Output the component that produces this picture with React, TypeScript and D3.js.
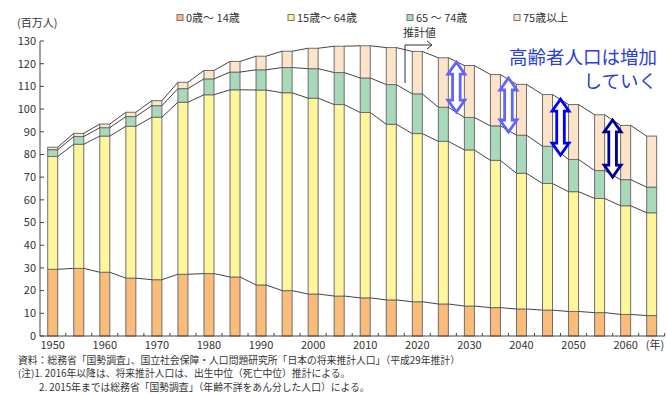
import React from "react";
import * as d3 from "d3";

const years = [1950, 1955, 1960, 1965, 1970, 1975, 1980, 1985, 1990, 1995, 2000, 2005, 2010, 2015, 2020, 2025, 2030, 2035, 2040, 2045, 2050, 2055, 2060, 2065];
const age0to14 = [29.4, 29.8, 28.1, 25.5, 24.8, 27.2, 27.5, 26.0, 22.5, 20.0, 18.5, 17.6, 16.8, 15.9, 15.1, 14.1, 13.2, 12.5, 11.9, 11.4, 10.8, 10.3, 9.5, 9.0];
const age15to64 = [49.7, 54.7, 60.0, 66.9, 71.6, 75.8, 78.8, 82.5, 85.9, 87.2, 86.3, 84.4, 81.7, 77.4, 74.1, 71.7, 68.8, 64.9, 59.8, 55.8, 52.8, 50.3, 47.9, 45.3];
const age65to74 = [3.0, 3.4, 3.7, 4.3, 5.1, 6.0, 7.0, 7.8, 8.9, 11.1, 13.0, 14.1, 15.2, 17.5, 17.5, 15.0, 14.3, 15.2, 16.8, 16.4, 14.2, 12.3, 11.5, 11.3];
const age75plus = [1.1, 1.4, 1.6, 1.9, 2.2, 2.8, 3.7, 4.7, 6.0, 7.2, 9.0, 11.6, 14.2, 16.3, 18.7, 21.8, 22.9, 22.6, 22.4, 22.8, 24.2, 24.6, 23.9, 22.5];

const seriesNames = ["0歳～ 14歳", "15歳～ 64歳", "65 ～ 74歳", "75歳以上"];
const seriesColors = ["#fbbc79", "#fff69c", "#a7d9ba", "#fde4c8"];
const legendX = [177, 288, 407, 514];

const yTicks = [0, 10, 20, 30, 40, 50, 60, 70, 80, 90, 100, 110, 120, 130];
const xLabelYears = [1950, 1960, 1970, 1980, 1990, 2000, 2010, 2020, 2030, 2040, 2050, 2060];

// annotation arrows: between year pairs, value ranges
const arrowLeftYears = [2025, 2035, 2045, 2055];
const arrowRightYears = [2030, 2040, 2050, 2060];
const arrowTop = [120.7, 113.7, 104.4, 95.2];
const arrowBottom = [98.7, 89.9, 79.7, 70.0];
const arrowColors = ["#6363ff", "#6363ff", "#0000ff", "#000090"];

const footnotes = [
  "資料：総務省「国勢調査」、国立社会保障・人口問題研究所「日本の将来推計人口」（平成29年推計）",
  "(注)1. 2016年以降は、将来推計人口は、出生中位（死亡中位）推計による。",
  "2. 2015年までは総務省「国勢調査」（年齢不詳をあん分した人口）による。",
];

const FONT = "'Noto Sans CJK JP', 'Noto Sans', sans-serif";

export default function App() {
  const W = 666, H = 394;
  const x = d3.scaleBand<string>().domain(years.map(String)).range([39.7, 664.7]).padding(0);
  const y = d3.scaleLinear().domain([0, 130]).range([336, 41]);
  const barW = 10;
  const cx = (yr: number) => (x(String(yr)) as number) + x.bandwidth() / 2;

  const table = years.map((yr, i) => ({
    year: yr,
    a: age0to14[i],
    b: age15to64[i],
    c: age65to74[i],
    d: age75plus[i],
  }));
  const keys = ["a", "b", "c", "d"];
  const stacked = d3.stack<any>().keys(keys)(table);

  const bars: JSX.Element[] = [];
  stacked.forEach((layer, li) => {
    layer.forEach((seg, i) => {
      const c = cx(years[i]);
      bars.push(
        <rect
          key={`b${li}-${i}`}
          x={c - barW / 2}
          y={y(seg[1])}
          width={barW}
          height={y(seg[0]) - y(seg[1])}
          fill={seriesColors[li]}
          stroke="#6e6e6e"
          strokeWidth={1}
        />
      );
    });
  });

  const lines: JSX.Element[] = [];
  stacked.forEach((layer, li) => {
    for (let i = 0; i < layer.length - 1; i++) {
      lines.push(
        <line
          key={`l${li}-${i}`}
          x1={cx(years[i]) + barW / 2}
          y1={y(layer[i][1])}
          x2={cx(years[i + 1]) - barW / 2}
          y2={y(layer[i + 1][1])}
          stroke="#444"
          strokeWidth={1}
        />
      );
    }
  });

  const arrowPath = (ax: number, yt: number, yb: number) => {
    const hw = 8.5, sw = 3.8, hl = 12;
    const p = d3.path();
    p.moveTo(ax, yt);
    p.lineTo(ax + hw, yt + hl);
    p.lineTo(ax + sw, yt + hl);
    p.lineTo(ax + sw, yb - hl);
    p.lineTo(ax + hw, yb - hl);
    p.lineTo(ax, yb);
    p.lineTo(ax - hw, yb - hl);
    p.lineTo(ax - sw, yb - hl);
    p.lineTo(ax - sw, yt + hl);
    p.lineTo(ax - hw, yt + hl);
    p.closePath();
    return p.toString();
  };

  const axisColor = "#444";
  const textColor = "#333";

  return (
    <svg
      width={W}
      height={H}
      viewBox={`0 0 ${W} ${H}`}
      style={{ position: "absolute", left: 0, top: 0, background: "#fff" }}
      fontFamily={FONT}
    >
      <rect x={0} y={0} width={W} height={H} fill="#fff" />

      {/* legend */}
      {seriesNames.map((n, i) => (
        <g key={`lg${i}`}>
          <rect x={legendX[i]} y={14.5} width={6} height={6} fill={seriesColors[i]} stroke="#777" strokeWidth={1} />
          <text x={legendX[i] + 9} y={21.5} fontSize={11} fill={textColor}>{n}</text>
        </g>
      ))}

      {/* y axis title */}
      <text x={17} y={27} fontSize={11} fill={textColor}>(百万人)</text>

      {/* y axis */}
      <line x1={40} y1={y(0)} x2={40} y2={y(130)} stroke={axisColor} strokeWidth={1} />
      {yTicks.map((t) => (
        <g key={`yt${t}`}>
          <line x1={40} x2={44} y1={y(t)} y2={y(t)} stroke={axisColor} strokeWidth={1} />
          <text x={36} y={y(t)} dy="0.35em" fontSize={11} textAnchor="end" fill={textColor}>{t}</text>
        </g>
      ))}

      {bars}
      {lines}

      {/* x axis */}
      <line x1={39.7} x2={664.7} y1={y(0)} y2={y(0)} stroke={axisColor} strokeWidth={1} />
      {years.map((yr) => (
        <line
          key={`xt${yr}`}
          x1={(x(String(yr)) as number) + x.bandwidth()}
          x2={(x(String(yr)) as number) + x.bandwidth()}
          y1={y(0)}
          y2={y(0) - 3}
          stroke={axisColor}
          strokeWidth={1}
        />
      ))}
      {xLabelYears.map((yr) => (
        <text key={`xl${yr}`} x={cx(yr)} y={349} fontSize={11} textAnchor="middle" fill={textColor}>{yr}</text>
      ))}
      <text x={655} y={349} fontSize={11} textAnchor="middle" fill={textColor}>(年)</text>

      {/* 推計値 marker */}
      <text x={403} y={37} fontSize={11} fill={textColor}>推計値</text>
      <path d="M405,83 L405,45 L432,45" fill="none" stroke="#333" strokeWidth={1} />
      <path d="M427,41 L432,45 L427,49" fill="none" stroke="#333" strokeWidth={1} />

      {/* arrows */}
      {arrowLeftYears.map((ly, i) => {
        const ax = (cx(ly) + cx(arrowRightYears[i])) / 2;
        return (
          <path
            key={`ar${i}`}
            d={arrowPath(ax, y(arrowTop[i]), y(arrowBottom[i]))}
            fill="#fff"
            stroke={arrowColors[i]}
            strokeWidth={2.8}
            strokeLinejoin="miter"
          />
        );
      })}

      {/* annotation text */}
      <text x={657} y={64} fontSize={18.5} textAnchor="end" fill="#2b3ed6">高齢者人口は増加</text>
      <text x={657} y={88} fontSize={18.5} textAnchor="end" fill="#2b3ed6">していく</text>

      {/* footnotes */}
      <text x={18} y={363.5} fontSize={9.8} fill={textColor}>{footnotes[0]}</text>
      <text x={18} y={377} fontSize={9.8} fill={textColor}>{footnotes[1]}</text>
      <text x={39} y={390.5} fontSize={9.8} fill={textColor}>{footnotes[2]}</text>
    </svg>
  );
}
